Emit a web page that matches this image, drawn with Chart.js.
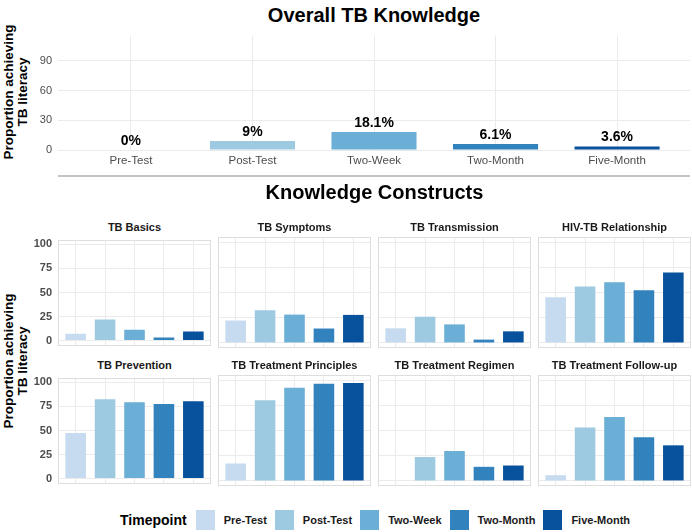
<!DOCTYPE html>
<html><head><meta charset="utf-8">
<script src="https://cdn.jsdelivr.net/npm/chart.js@4.4.1/dist/chart.umd.min.js"></script>
<style>
body{margin:0;background:#fff;}
#wrap{position:relative;width:692px;height:532px;overflow:hidden;background:#fff;font-family:"Liberation Sans",Arial,Helvetica,sans-serif;}
canvas{position:absolute;}
.t{position:absolute;white-space:nowrap;}
</style></head><body><div id="wrap"></div>
<script>
// ---- data ----
const timepoints = ['Pre-Test','Post-Test','Two-Week','Two-Month','Five-Month'];
const blues = ['#c6dbef','#9ecae1','#6baed6','#3182bd','#08519c'];
const overallValues = [0, 9, 18.1, 6.1, 3.6];
const overallTicks = [0, 30, 60, 90];
const constructTicks = [0, 25, 50, 75, 100];
const constructNames = ['TB Basics','TB Symptoms','TB Transmission','HIV-TB Relationship',
  'TB Prevention','TB Treatment Principles','TB Treatment Regimen','TB Treatment Follow-up'];
const tbBasics = [7, 22, 11.2, 3.2, 9.5];
const tbSymptoms = [22.2, 32.4, 28.1, 14.3, 27.8];
const tbTransmission = [14.5, 26, 18.4, 3.3, 11.5];
const hivTbRelationship = [45.4, 56, 60.2, 52.2, 69.8];
const tbPrevention = [47.5, 82.5, 79.5, 77.5, 80.5];
const tbTreatmentPrinciples = [17.3, 80, 92.3, 96.3, 97];
const tbTreatmentRegimen = [0, 23.7, 29.7, 14, 15.3];
const tbTreatmentFollowUp = [5.7, 53, 63.3, 43.3, 35.3];
const constructValues = [tbBasics, tbSymptoms, tbTransmission, hivTbRelationship,
  tbPrevention, tbTreatmentPrinciples, tbTreatmentRegimen, tbTreatmentFollowUp];

// ---- drawing ----
const FONT = '"Liberation Sans", Arial, Helvetica, sans-serif';
const wrap = document.getElementById('wrap');

function text(str, cx, cy, css){
  const d = document.createElement('div');
  d.className = 't';
  d.textContent = str;
  d.style.left = cx + 'px'; d.style.top = cy + 'px';
  d.style.transform = 'translate(-50%,-50%)';
  Object.assign(d.style, css || {});
  wrap.appendChild(d);
  return d;
}
function yTitle(cy){
  const d = document.createElement('div');
  d.className = 't';
  d.innerHTML = 'Proportion achieving<br>TB literacy';
  Object.assign(d.style, {left:(16-90)+'px', top:(cy-14)+'px', width:'180px', height:'28px',
    lineHeight:'14px', textAlign:'center', fontSize:'13.5px', fontWeight:'bold', color:'#000',
    transform:'rotate(-90deg)'});
  wrap.appendChild(d);
}

const barLabelPlugin = {
  id:'barLabels',
  afterDatasetsDraw(chart, args, opts){
    if(!opts.show) return;
    const ctx = chart.ctx;
    const meta = chart.getDatasetMeta(0);
    ctx.save();
    ctx.font = 'bold 14px ' + FONT;
    ctx.fillStyle = '#000';
    ctx.textAlign = 'center';
    ctx.textBaseline = 'middle';
    meta.data.forEach((el, i) => {
      ctx.fillText(chart.data.datasets[0].data[i].y + '%', el.x, el.y - 9);
    });
    ctx.restore();
  }
};
const borderPlugin = {
  id:'panelBorder',
  beforeDatasetsDraw(chart, args, opts){
    if(!opts.show) return;
    const a = chart.chartArea, ctx = chart.ctx;
    ctx.save();
    ctx.strokeStyle = '#dedede';
    ctx.lineWidth = 1;
    ctx.strokeRect(Math.round(a.left)+0.5, Math.round(a.top)+0.5, Math.round(a.right-a.left)-1, Math.round(a.bottom-a.top)-1);
    ctx.restore();
  }
};

function panel(o){
  const pad = 10;
  const c = document.createElement('canvas');
  const W = o.w + 2*pad + o.yw, H = o.h + 2*pad + o.xh;
  c.width = W; c.height = H;
  c.style.left = (o.x - pad - o.yw) + 'px';
  c.style.top = (o.y - pad) + 'px';
  c.style.width = W + 'px'; c.style.height = H + 'px';
  wrap.appendChild(c);
  const idx = o.values.map((v,i)=>i+1);
  return new Chart(c, {
    type:'bar',
    data:{datasets:[{
      data:o.values.map((v,i)=>({x:i+1, y:v})),
      backgroundColor:blues, borderWidth:0,
      barPercentage:0.7, categoryPercentage:1
    }]},
    options:{
      responsive:false, animation:false, events:[],
      layout:{padding:pad},
      plugins:{legend:{display:false}, tooltip:{enabled:false},
        barLabels:{show:!!o.labels}, panelBorder:{show:!!o.border}},
      scales:{
        x:{type:'linear', min:0.4, max:5.6, offset:false,
          afterBuildTicks:s=>{s.ticks = idx.map(v=>({value:v}));},
          afterFit:s=>{s.height = o.xh;},
          grid:{color:'#ebebeb', lineWidth:1, drawTicks:false, offset:false},
          border:{display:false},
          ticks:{display:!!o.xLabels, padding:3, autoSkip:false, maxRotation:0,
            color:'#4d4d4d', font:{family:FONT, size:11.5},
            callback:v=>timepoints[v-1]}
        },
        y:{type:'linear', min:o.yMin, max:o.yMax,
          afterBuildTicks:s=>{s.ticks = o.ticks.map(v=>({value:v}));},
          afterFit:s=>{s.width = o.yw;},
          grid:{color:'#ebebeb', lineWidth:1, drawTicks:false},
          border:{display:false},
          ticks:{display:o.yw>0, padding:6, color:'#4d4d4d',
            font:{family:FONT, size:o.tickSize, weight:o.tickWeight}}
        }
      }
    },
    plugins:[barLabelPlugin, borderPlugin]
  });
}

// top: overall
text('Overall TB Knowledge', 374, 15, {fontSize:'20px', fontWeight:'bold', color:'#000'});
yTitle(92);
panel({x:58, y:33, w:632, h:118, yw:58, xh:24, values:overallValues, ticks:overallTicks,
  yMin:-1, yMax:115.5, labels:true, xLabels:true, tickSize:11, tickWeight:'normal'});
const sep = document.createElement('div');
Object.assign(sep.style,{position:'absolute', left:'58px', top:'175px', width:'632px', height:'2px', background:'#c4c4c4'});
wrap.appendChild(sep);

// bottom: constructs
text('Knowledge Constructs', 374.5, 192, {fontSize:'20px', fontWeight:'bold', color:'#000'});
yTitle(361);
const colX = [58, 218, 378, 538];
const rowY = [236.5, 375];
const stripY = [226.5, 364.5];
constructNames.forEach((name, k) => {
  const r = Math.floor(k/4), cIdx = k % 4;
  const left = colX[cIdx];
  text(name, left + 76.5, stripY[r], {fontSize:'11px', fontWeight:'bold', color:'#1a1a1a'});
  panel({x:left, y:rowY[r], w:153, h:111, yw:cIdx===0?58:0, xh:0, values:constructValues[k],
    ticks:constructTicks, yMin:-5, yMax:105, border:true, tickSize:11, tickWeight:'bold'});
});

// legend
const leg = document.createElement('div');
Object.assign(leg.style,{position:'absolute', left:'120px', top:'510px', height:'20px', display:'flex', alignItems:'center'});
const lt = document.createElement('span');
lt.textContent = 'Timepoint';
Object.assign(lt.style,{fontSize:'14px', fontWeight:'bold', color:'#000', marginRight:'9px'});
leg.appendChild(lt);
timepoints.forEach((tp, i) => {
  const k = document.createElement('span');
  Object.assign(k.style,{display:'inline-block', width:'19px', height:'20px', background:blues[i], marginRight:'9px'});
  leg.appendChild(k);
  const l = document.createElement('span');
  l.textContent = tp;
  Object.assign(l.style,{fontSize:'11px', fontWeight:'bold', color:'#1a1a1a', marginRight:'8px'});
  leg.appendChild(l);
});
wrap.appendChild(leg);
</script>
</body></html>
